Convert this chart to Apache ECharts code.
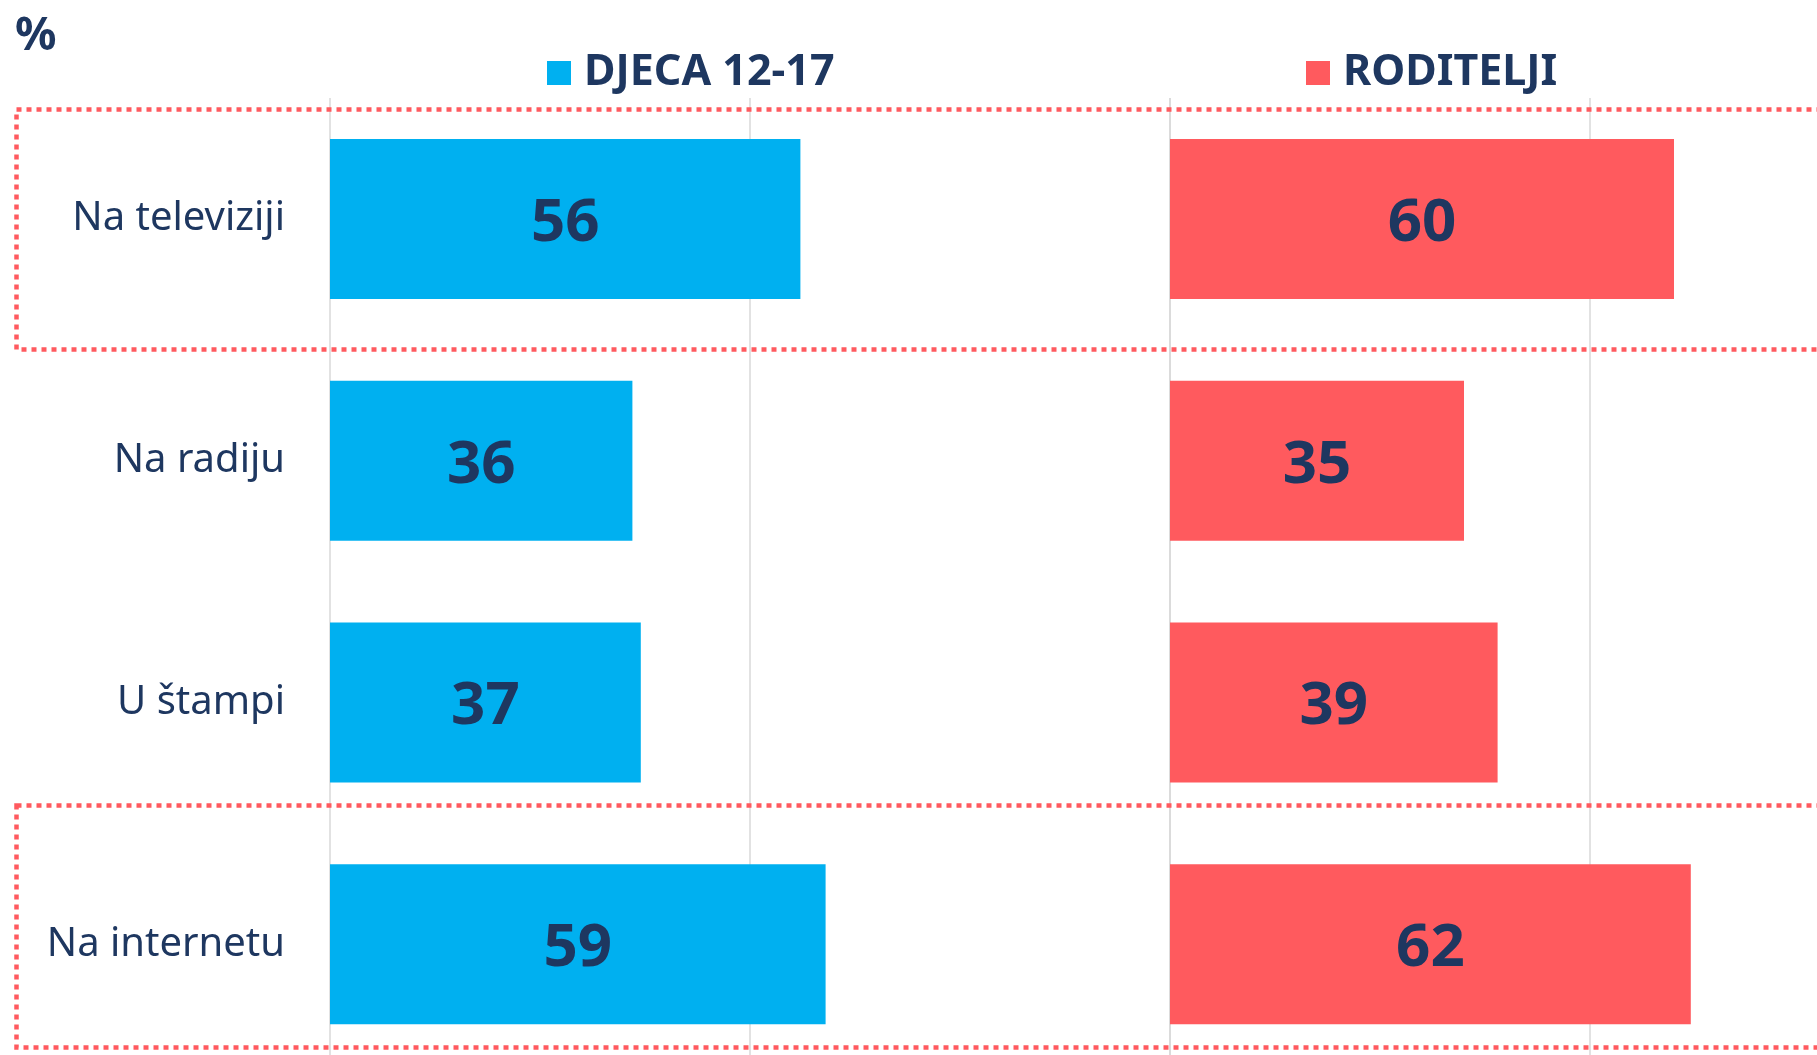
<!DOCTYPE html>
<html>
<head>
<meta charset="utf-8">
<script src="https://cdn.jsdelivr.net/npm/echarts@6/dist/echarts.min.js"></script>
<style>
  html, body { margin: 0; padding: 0; background: #ffffff; overflow: hidden; width: 1817px; height: 1055px; }
  #chart { width: 2020px; height: 1080px; }
</style>
</head>
<body>
<div id="chart"></div>
<script>
// Where people have seen / heard the topic, in percent
const categories = ['Na televiziji', 'Na radiju', 'U štampi', 'Na internetu'];
const seriesNames = ['DJECA 12-17', 'RODITELJI'];
const djecaValues = [56, 36, 37, 59];
const roditeljiValues = [60, 35, 39, 62];

const navy = '#1E3760';
const fontFamily = '"Noto Sans", "Open Sans", sans-serif';
const blue = '#00B0F0';
const red = '#FF5A5E';

// The canvas is larger than the visible page: the right panel and the last
// row run past the page edges
const chart = echarts.init(document.getElementById('chart'), null, { renderer: 'canvas' });

function valueAxis(gridIndex) {
  return {
    type: 'value',
    gridIndex: gridIndex,
    min: 0,
    max: 100,
    interval: 50,
    axisLabel: { show: false },
    axisLine: { show: false },
    axisTick: { show: false },
    splitLine: { show: true, lineStyle: { color: '#D9D9D9', width: 1.5 } }
  };
}

function categoryAxis(gridIndex, showLabels) {
  return {
    type: 'category',
    gridIndex: gridIndex,
    data: categories,
    inverse: true,
    axisLine: { show: false },
    axisTick: { show: false },
    axisLabel: {
      show: showLabels,
      margin: 45,
      color: navy,
      fontFamily: fontFamily,
      fontSize: 40,
      padding: [24, 0, 0, 0]
    }
  };
}

function barLabel() {
  return {
    show: true,
    position: 'inside',
    offset: [0, 5],
    color: navy,
    fontFamily: fontFamily,
    fontWeight: 'bold',
    fontSize: 60
  };
}

function legendFor(name, left) {
  return {
    data: [name],
    left: left,
    top: 48,
    padding: 0,
    icon: 'rect',
    itemWidth: 24,
    itemHeight: 24,
    itemGap: 0,
    selectedMode: false,
    textStyle: {
      color: navy,
      fontFamily: fontFamily,
      fontWeight: 'bold',
      fontSize: 43,
      lineHeight: 50,
      padding: [0, 0, 0, 8]
    }
  };
}

// Dotted highlight frames around the first and last rows
function dottedFrame(top, bottom) {
  return {
    type: 'rect',
    left: 14,
    top: top,
    z: 100,
    shape: { x: 0, y: 0, width: 2000, height: bottom - top },
    style: {
      fill: 'none',
      stroke: '#FF5A5F',
      lineWidth: 4.5,
      lineDash: [5, 5]
    },
    silent: true
  };
}

const option = {
  backgroundColor: '#ffffff',
  animation: false,
  title: {
    text: '%',
    left: 10,
    top: 9,
    textStyle: { color: navy, fontFamily: fontFamily, fontWeight: 'bold', fontSize: 46 }
  },
  legend: [legendFor(seriesNames[0], 547), legendFor(seriesNames[1], 1306)],
  grid: [
    { left: 330, top: 98, width: 840, height: 967 },
    { left: 1170, top: 98, width: 840, height: 967 }
  ],
  xAxis: [valueAxis(0), valueAxis(1)],
  yAxis: [categoryAxis(0, true), categoryAxis(1, false)],
  series: [
    {
      name: seriesNames[0],
      type: 'bar',
      xAxisIndex: 0,
      yAxisIndex: 0,
      data: djecaValues,
      barWidth: 160,
      itemStyle: { color: blue },
      label: barLabel()
    },
    {
      name: seriesNames[1],
      type: 'bar',
      xAxisIndex: 1,
      yAxisIndex: 1,
      data: roditeljiValues,
      barWidth: 160,
      itemStyle: { color: red },
      label: barLabel()
    }
  ],
  graphic: [dottedFrame(107, 347), dottedFrame(803, 1045)]
};

chart.setOption(option);
</script>
</body>
</html>
